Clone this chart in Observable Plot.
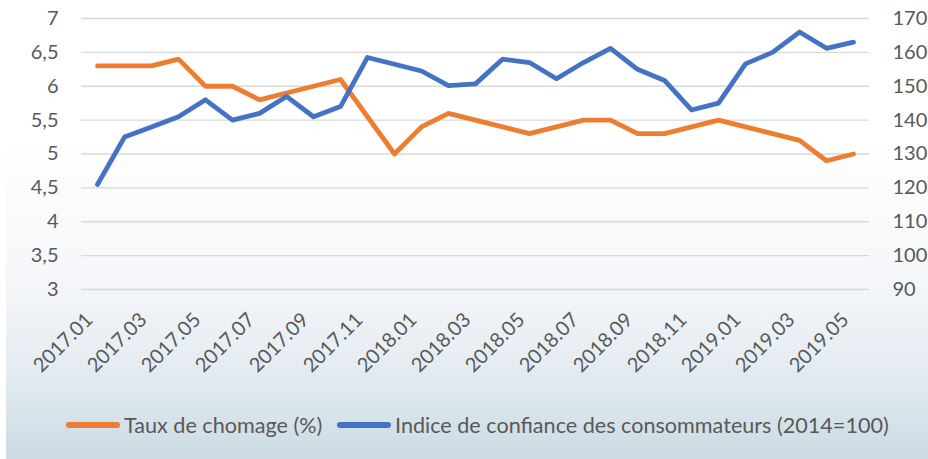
<!DOCTYPE html>
<html><head><meta charset="utf-8">
<script src="https://cdn.jsdelivr.net/npm/d3@7"></script>
<script src="https://cdn.jsdelivr.net/npm/@observablehq/plot@0.6"></script>
<style>
body{margin:0;background:#fff;font-family:Lato,sans-serif;}
#bg{position:absolute;left:6px;top:0;width:922px;height:459px;
background:linear-gradient(to bottom,#ffffff 0%,#ffffff 30%,#f4f6f9 62%,#e3ebf0 82%,#cbdae3 100%);}
#chart{position:absolute;left:0;top:0;}
#legend{position:absolute;left:0;top:425px;width:928px;font-size:21.6px;color:#595959;}
.sw{display:inline-block;width:54px;height:6px;border-radius:3px;margin-right:4px;}
.item{display:flex;align-items:center;position:absolute;top:0;transform:translateY(-50%);white-space:nowrap;}
</style></head>
<body>
<div id="bg"></div>
<div id="chart"></div>
<div id="legend"></div>
<script>
const months = ["2017.01","2017.02","2017.03","2017.04","2017.05","2017.06","2017.07","2017.08","2017.09","2017.10","2017.11","2017.12",
"2018.01","2018.02","2018.03","2018.04","2018.05","2018.06","2018.07","2018.08","2018.09","2018.10","2018.11","2018.12",
"2019.01","2019.02","2019.03","2019.04","2019.05"];
const chomage = [6.3,6.3,6.3,6.4,6.0,6.0,5.8,5.9,6.0,6.1,5.55,5.0,5.4,5.6,5.5,5.4,5.3,5.4,5.5,5.5,5.3,5.3,5.4,5.5,5.4,5.3,5.2,4.9,5.0];
const confiance = [121,135,138,141,146,140,142,147,141,144,158.5,156.5,154.5,150.2,150.7,158,157,152.2,157,161.2,155,151.7,143,145,156.6,160,166,161.2,163];
const leftTicks = [3,3.5,4,4.5,5,5.5,6,6.5,7];
const rightTicks = [90,100,110,120,130,140,150,160,170];
const seriesNames = ["Taux de chomage (%)","Indice de confiance des consommateurs (2014=100)"];
const colors = ["#ed7d31","#4472c4"];

const toLeft = v => 3 + (v - 90) / 20;
const fromLeft = d => Math.round(90 + (d - 3) * 20);

const d1 = months.map((m,i)=>({m, v: chomage[i]}));
const d2 = months.map((m,i)=>({m, v: toLeft(confiance[i])}));

const chart = Plot.plot({
  width: 928, height: 395,
  marginLeft: 81, marginRight: 59, marginTop: 18, marginBottom: 106,
  style: {background:"transparent", fontFamily:"Lato, sans-serif", fontSize:"20px", color:"#595959"},
  x: {type:"point", domain: months, padding: 0.5},
  y: {domain:[3,7]},
  marks: [
    Plot.gridY(leftTicks, {stroke:"#d9d9d9", strokeOpacity:1, strokeWidth:1.3}),
    Plot.axisY(leftTicks, {anchor:"left", tickSize:0, tickPadding:23, tickFormat: d => String(d).replace(".", ","), label:null}),
    Plot.axisY(rightTicks.map(toLeft), {anchor:"right", tickSize:0, tickPadding:23, tickFormat: d => String(fromLeft(d)), label:null}),
    Plot.axisX(months.filter((m,i)=>i%2===0), {tickRotate:-45, tickSize:0, tickPadding:27, dx:-8, fontSize:20, label:null}),
    Plot.line(d1, {x:"m", y:"v", stroke:colors[0], strokeWidth:4.8, strokeLinecap:"round", strokeLinejoin:"round"}),
    Plot.line(d2, {x:"m", y:"v", stroke:colors[1], strokeWidth:4.8, strokeLinecap:"round", strokeLinejoin:"round"})
  ]
});
document.getElementById("chart").append(chart);

const leg = document.getElementById("legend");
const starts = [66, 337];
seriesNames.forEach((n,i)=>{
  const it = document.createElement("div");
  it.className="item";
  it.style.left=starts[i]+"px";
  it.innerHTML = `<span class="sw" style="background:${colors[i]}"></span><span>${n}</span>`;
  leg.append(it);
});
</script>
</body></html>
